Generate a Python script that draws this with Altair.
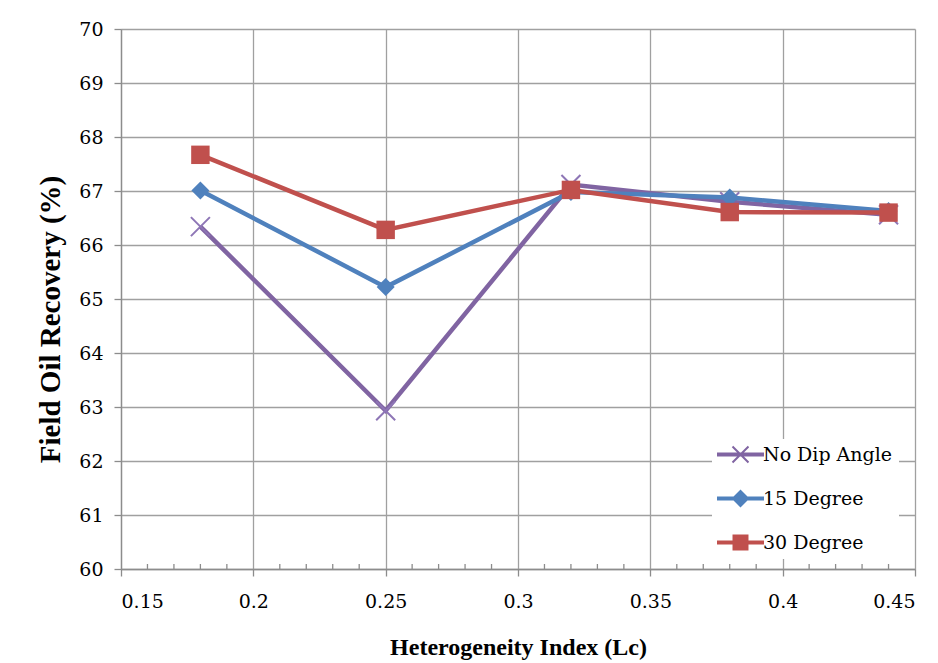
import altair as alt
import pandas as pd

# ---- data ----
series_names = ["No Dip Angle", "15 Degree", "30 Degree"]
x_values = [0.18, 0.25, 0.32, 0.38, 0.44]
no_dip = [66.34, 62.93, 67.12, 66.80, 66.56]
deg15 = [67.01, 65.22, 66.98, 66.88, 66.63]
deg30 = [67.67, 66.28, 67.02, 66.61, 66.60]

x_major = [0.15, 0.2, 0.25, 0.3, 0.35, 0.4, 0.45]
x_minor = [0.16, 0.17, 0.18, 0.19, 0.21, 0.22, 0.23, 0.24, 0.26, 0.27, 0.28, 0.29,
           0.31, 0.32, 0.33, 0.34, 0.36, 0.37, 0.38, 0.39, 0.41, 0.42, 0.43, 0.44]
y_ticks = [60, 61, 62, 63, 64, 65, 66, 67, 68, 69, 70]

colors = ["#8064A2", "#4F81BD", "#C0504D"]

rows = []
for name, vals in zip(series_names, [no_dip, deg15, deg30]):
    for xv, yv in zip(x_values, vals):
        rows.append({"Lc": xv, "Recovery": yv, "Series": name})
df = pd.DataFrame(rows)
df_minor = pd.DataFrame({"Lc": x_minor})

FONT = "Liberation Serif"
LFONT = "DejaVu Serif"
GRID = "#A0A0A0"
AX = "#8C8C8C"

x_scale = alt.Scale(domain=[0.15, 0.45], nice=False, zero=False)
y_scale = alt.Scale(domain=[60, 70], nice=False, zero=False)

x_axis = alt.Axis(values=x_major, format="~g", title="Heterogeneity Index (Lc)",
                  labelFont=LFONT, labelFontSize=19, labelColor="#000000",
                  labelPadding=16, titleFont=FONT, titleFontSize=24,
                  titleBaseline="alphabetic", titleY=85, titleX=397)
y_axis = alt.Axis(values=y_ticks, format="d", title="Field Oil Recovery (%)",
                  labelFont=LFONT, labelFontSize=19, labelColor="#000000",
                  labelPadding=11, titleFont=FONT, titleFontSize=29,
                  titleAngle=270, titleBaseline="alphabetic", titleAlign="center",
                  titleX=-62, titleY=290)

layers = []
for i, (name, col) in enumerate(zip(series_names, colors)):
    base = alt.Chart(df).transform_filter(alt.datum.Series == name)
    if i == 0:
        enc_x = alt.X("Lc:Q", scale=x_scale, axis=x_axis)
        enc_y = alt.Y("Recovery:Q", scale=y_scale, axis=y_axis)
    else:
        enc_x = alt.X("Lc:Q")
        enc_y = alt.Y("Recovery:Q")
    line = base.mark_line(color=col, strokeWidth=4.5).encode(x=enc_x, y=enc_y)
    layers.append(line)
    ex = alt.X("Lc:Q")
    ey = alt.Y("Recovery:Q")
    if name == "No Dip Angle":
        pts = base.mark_point(shape="M-1,-1L1,1M-1,1L1,-1", filled=False, size=361,
                              strokeWidth=2, color="#8E76B6", opacity=1).encode(x=ex, y=ey)
    elif name == "15 Degree":
        pts = base.mark_point(shape="diamond", filled=True, size=324, color=col,
                              opacity=1).encode(x=ex, y=ey)
    else:
        pts = base.mark_point(shape="square", filled=True, size=340, color=col,
                              opacity=1).encode(x=ex, y=ey)
    layers.append(pts)

# minor ticks on the x axis (inside, pointing up)
minor = alt.Chart(df_minor).mark_rule(color=AX, strokeWidth=1.3).encode(
    x=alt.X("Lc:Q"), y=alt.value(535), y2=alt.value(540))
layers.insert(0, minor)

# legend-only layer: invisible points, legend drawn with line+marker symbols
line_seg = "M-4,-0.35L4,-0.35L4,0.35L-4,0.35Z"
sym_x = line_seg + "M-1.24,-1.48L1.48,1.24L1.24,1.48L-1.48,-1.24Z" + "M-1.48,1.24L1.24,-1.48L1.48,-1.24L-1.24,1.48Z"
sym_d = line_seg + "M0,-1.53L1.53,0L0,1.53L-1.53,0Z"
sym_s = line_seg + "M-1.36,-1.36L1.36,-1.36L1.36,1.36L-1.36,1.36Z"

legend = alt.Legend(title=None, orient="none", legendX=591, legendY=410,
                    fillColor="#FFFFFF", padding=6, rowPadding=24,
                    labelFont=LFONT, labelFontSize=19, labelColor="#000000",
                    symbolSize=138, symbolStrokeWidth=0, symbolOpacity=1,
                    symbolOffset=13, labelOffset=13)

leg_layer = alt.Chart(df).transform_filter(alt.datum.Lc == 0.18).mark_point(
    filled=True, opacity=0).encode(
    x=alt.X("Lc:Q"),
    y=alt.Y("Recovery:Q"),
    color=alt.Color("Series:N", scale=alt.Scale(domain=series_names, range=colors),
                    sort=series_names, legend=legend),
    shape=alt.Shape("Series:N", scale=alt.Scale(domain=series_names, range=[sym_x, sym_d, sym_s]),
                    sort=series_names, legend=legend),
)
layers.append(leg_layer)

chart = alt.layer(*layers).properties(
    width=794, height=540,
    autosize=alt.AutoSizeParams(type="none"),
    padding={"left": 113, "top": 21, "right": 15, "bottom": 92},
    background="#FFFFFF",
).configure_view(stroke=None).configure_axis(
    grid=True, gridColor=GRID, gridWidth=1.3,
    domainColor=AX, domainWidth=1.3,
    tickColor=AX, tickSize=7, tickWidth=1.3,
    labelFont=LFONT, labelFontSize=19, labelColor="#000000",
    titleFont=FONT, titleFontWeight="bold", titleColor="#000000",
).configure_legend(
    labelFont=LFONT, labelFontSize=19, labelColor="#000000",
)

chart.save("out.html", embed_options={"renderer": "svg", "actions": False})
